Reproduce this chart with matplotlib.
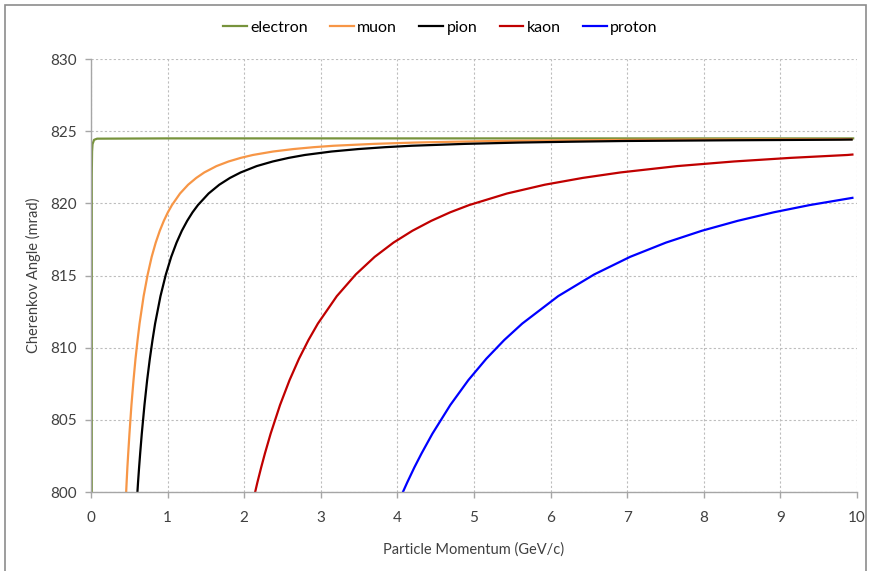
import numpy as np
import matplotlib.pyplot as plt
from matplotlib.patches import Rectangle

plt.rcParams['font.family'] = ['Lato', 'DejaVu Sans']

# values (angle in mrad, momentum in GeV/c)
angle_steps = [800.0, 800.66, 801.71, 802.68, 804.04, 806.03, 807.75, 809.23, 810.53, 811.67, 813.57, 815.07,
	816.29, 817.28, 818.10, 818.79, 819.38, 819.88, 820.68, 821.29, 821.76, 822.14, 822.58, 822.90,
	823.15, 823.35, 823.59, 823.76, 823.89, 823.99, 824.12, 824.21, 824.27, 824.32, 824.37, 824.41]

electron_p = [0.010, 0.010, 0.014, 0.020, 0.040, 0.080, 1.0, 3.0, 6.0, 9.95]
electron_theta = [800.0, 822.0, 823.6, 824.1, 824.4, 824.48, 824.5, 824.5, 824.5, 824.5]

muon_p = [0.459, 0.465, 0.475, 0.486, 0.502, 0.528, 0.555, 0.581, 0.608, 0.634, 0.687, 0.740,
	0.792, 0.845, 0.898, 0.951, 1.004, 1.057, 1.162, 1.268, 1.374, 1.479, 1.638, 1.796,
	1.955, 2.113, 2.377, 2.642, 2.906, 3.170, 3.698, 4.226, 4.755, 5.283, 6.340, 7.396, 9.93]
muon_theta = angle_steps + [824.45]

pion_p = [0.606, 0.614, 0.628, 0.642, 0.663, 0.698, 0.733, 0.768, 0.803, 0.837, 0.907, 0.977,
	1.047, 1.117, 1.186, 1.256, 1.326, 1.396, 1.535, 1.675, 1.814, 1.954, 2.163, 2.373,
	2.582, 2.791, 3.140, 3.489, 3.838, 4.187, 4.885, 5.583, 6.281, 6.979, 8.374, 9.770, 9.93]
pion_theta = angle_steps + [824.42]

kaon_p = [2.143, 2.172, 2.222, 2.271, 2.345, 2.468, 2.592, 2.715, 2.839, 2.962, 3.209, 3.456,
	3.703, 3.949, 4.196, 4.443, 4.690, 4.937, 5.430, 5.924, 6.418, 6.912, 7.652, 8.393,
	9.133, 9.874, 9.94]
kaon_theta = angle_steps[:26] + [823.38]

proton_p = [4.072, 4.128, 4.222, 4.316, 4.457, 4.691, 4.926, 5.160, 5.395, 5.630, 6.099, 6.568,
	7.037, 7.506, 7.975, 8.444, 8.914, 9.383, 9.94]
proton_theta = angle_steps[:18] + [820.38]

names = ['electron', 'muon', 'pion', 'kaon', 'proton']
colors = ['#77933C', '#F79646', '#000000', '#C00000', '#0000FF']

x_ticks = list(range(0, 11))
y_ticks = [800, 805, 810, 815, 820, 825, 830]


def plotCherenkov(output='out.png'):

	fig = plt.figure(figsize=(8.7, 5.71), dpi=100)
	ax = fig.add_axes([91/870, 1-492/571, (857-91)/870, (492-59)/571])

	series = [(electron_p, electron_theta), (muon_p, muon_theta), (pion_p, pion_theta),
		(kaon_p, kaon_theta), (proton_p, proton_theta)]
	for (p, th), name, c in zip(series, names, colors):
		ax.plot(p, th, color=c, lw=1.6, label=name, solid_joinstyle='round')

	ax.set_xlim(0, 10)
	ax.set_ylim(800, 830)
	ax.set_xticks(x_ticks)
	ax.set_yticks(y_ticks)
	ax.grid(True, color='#BDBDBD', ls=(0, (2, 2)), lw=0.8)
	ax.set_axisbelow(True)

	for s in ['top', 'right']:
		ax.spines[s].set_visible(False)
	for s in ['left', 'bottom']:
		ax.spines[s].set_color('#A6A6A6')
		ax.spines[s].set_linewidth(1.0)

	ax.tick_params(axis='both', colors='#A6A6A6', length=4, width=1.0, labelcolor='#404040', labelsize=11)
	ax.tick_params(axis='x', pad=10)
	ax.tick_params(axis='y', pad=6)

	ax.set_xlabel('Particle Momentum (GeV/c)', fontsize=10.5, color='#404040', labelpad=12)
	ax.set_ylabel('Cherenkov Angle (mrad)', fontsize=10.5, color='#404040', labelpad=7)

	ax.legend(loc='center', bbox_to_anchor=(0.506, 0.951), bbox_transform=fig.transFigure, ncol=5,
		frameon=False, fontsize=11.5, handlelength=1.5, handletextpad=0.2, columnspacing=1.4)

	# chart area border
	fig.patches.append(Rectangle((5/870, -0.02), (866-5)/870, 1.02-5/571, transform=fig.transFigure,
		fill=False, edgecolor='#8C8C8C', lw=1.2))

	fig.savefig(output, dpi=100)
	plt.close(fig)


if __name__ == '__main__':
	plotCherenkov()
